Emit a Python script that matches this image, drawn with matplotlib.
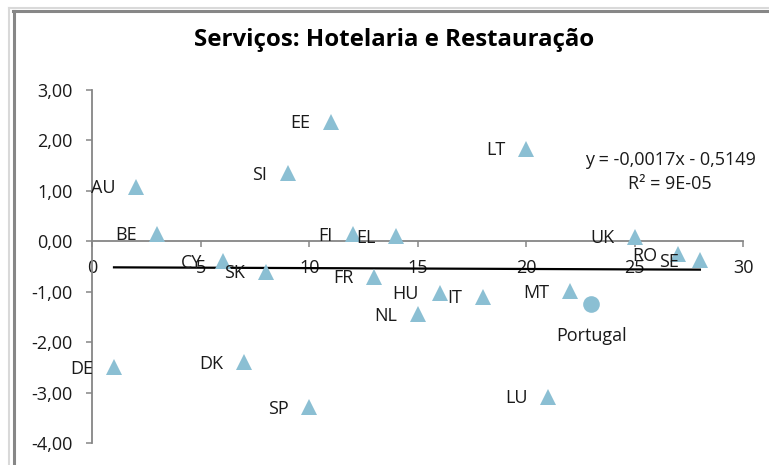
import matplotlib
matplotlib.use("Agg")
import matplotlib.pyplot as plt
from matplotlib.lines import Line2D
from matplotlib.ticker import FuncFormatter

plt.rcParams['font.family'] = ['Open Sans', 'DejaVu Sans']

# ---- data ----
countries = ["AU", "BE", "CY", "SK", "SI", "EE", "FI", "EL", "LT", "UK", "RO", "SE",
             "FR", "HU", "IT", "NL", "MT", "LU", "DE", "DK", "SP"]
x_vals = [2, 3, 6, 8, 9, 11, 12, 14, 20, 25, 27, 28,
          13, 16, 18, 15, 22, 21, 1, 7, 10]
y_vals = [1.08, 0.15, -0.40, -0.60, 1.35, 2.37, 0.14, 0.10, 1.83, 0.09, -0.26, -0.38,
          -0.71, -1.02, -1.10, -1.45, -0.99, -3.09, -2.50, -2.40, -3.29]
pt_label = "Portugal"
pt_x = 23
pt_y = -1.25
trend_slope = -0.0017
trend_intercept = -0.5149
trend_x = [1, 28]
eq_text = "y = -0,0017x - 0,5149\nR² = 9E-05"
title = "Serviços: Hotelaria e Restauração"
x_ticks = [0, 5, 10, 15, 20, 25, 30]
y_ticks = [3, 2, 1, 0, -1, -2, -3, -4]

W, H = 769, 465
fig = plt.figure(figsize=(W / 100, H / 100), dpi=100)

# chart frame (Excel-like border)
fig.add_artist(Line2D([8.5 / W, 8.5 / W], [0, 1 - 8.5 / H], transform=fig.transFigure,
                      color="#d9d9d9", lw=1.5))
fig.add_artist(Line2D([8.5 / W, 1], [1 - 8.5 / H, 1 - 8.5 / H], transform=fig.transFigure,
                      color="#d9d9d9", lw=1.5))
fig.add_artist(Line2D([13.5 / W, 13.5 / W], [0, 1 - 11 / H], transform=fig.transFigure,
                      color="#878787", lw=2.2))
fig.add_artist(Line2D([12.5 / W, 1], [1 - 11 / H, 1 - 11 / H], transform=fig.transFigure,
                      color="#878787", lw=2.2))

left, right = 92.3 / W, 743.3 / W
bottom, top = 1 - 443 / H, 1 - 90 / H
ax = fig.add_axes([left, bottom, right - left, top - bottom])
ax.set_xlim(0, 30)
ax.set_ylim(-4, 3)

for s in ("top", "right"):
    ax.spines[s].set_visible(False)
ax.spines["left"].set_position(("data", 0))
ax.spines["bottom"].set_position(("data", 0))
for s in ("left", "bottom"):
    ax.spines[s].set_color("#868686")
    ax.spines[s].set_linewidth(1.3)

ax.set_xticks(x_ticks)
ax.set_yticks(y_ticks)
ax.yaxis.set_major_formatter(FuncFormatter(lambda v, p: f"{v:.2f}".replace(".", ",")))
ax.xaxis.set_major_formatter(FuncFormatter(lambda v, p: f"{int(v)}"))
ax.tick_params(axis="y", direction="out", length=4.5, width=1.1, color="#868686",
               pad=9.5, labelsize=13, labelcolor="#1a1a1a")
ax.tick_params(axis="x", direction="out", length=4.5, width=1.1, color="#868686",
               pad=8, labelsize=13, labelcolor="#1a1a1a")

tri_color = "#8BBFD3"
ax.plot(x_vals, y_vals, linestyle="none", marker="^", ms=11.5, color=tri_color,
        markeredgewidth=0, zorder=3, clip_on=False)
ax.plot([pt_x], [pt_y], linestyle="none", marker="o", ms=12, color=tri_color,
        markeredgewidth=0, zorder=3, clip_on=False)

ty = [trend_slope * v + trend_intercept for v in trend_x]
ax.plot(trend_x, ty, color="black", lw=1.6, zorder=2)

for c, xv, yv in zip(countries, x_vals, y_vals):
    ax.annotate(c, (xv, yv), xytext=(-14.8, -4.6), textcoords="offset points",
                ha="right", va="baseline", fontsize=13, color="#1a1a1a", zorder=4)
ax.annotate(pt_label, (pt_x, pt_y), xytext=(0, -22.5), textcoords="offset points",
            ha="center", va="center", fontsize=13, color="#1a1a1a", zorder=4)

fig.text(670 / W, 1 - 172 / H, eq_text, ha="center", va="center", fontsize=13,
         color="#1a1a1a", linespacing=1.42, multialignment="center")

fig.text(394.5 / W, 1 - 40 / H, title, ha="center", va="center", fontsize=17.3,
         fontweight="bold", color="black")

fig.savefig("out.png", dpi=100, facecolor="white")
